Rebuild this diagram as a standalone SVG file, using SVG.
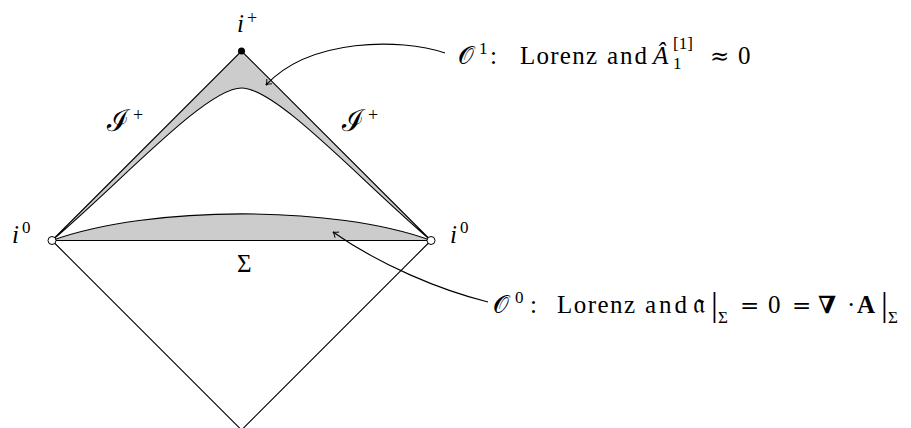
<svg xmlns="http://www.w3.org/2000/svg" width="911" height="428" viewBox="0 0 911 428">
<style>
.ln{fill:none;stroke:#000;stroke-width:1.1}
.reg{fill:#cccccc;stroke:#000;stroke-width:1.1}
</style>
<defs>
<marker id="ah" viewBox="-6 -5 8 10" markerWidth="8" markerHeight="10" refX="0" refY="0" orient="auto" markerUnits="userSpaceOnUse">
<path d="M-5,-3.5 Q-2,-0.5 0,0 Q-2,0.5 -5,3.5" fill="none" stroke="#000" stroke-width="1"/>
</marker>
</defs>
<rect width="911" height="428" fill="#fff"/>
<g id="diamond">
<path class="ln" d="M52,240.5 L241.5,430 L431,240.5"/>
</g>
<g id="region-O1">
<path class="reg" d="M52,240.5 L241.5,51 L431,240.5 C362,182 277,88 241.5,88 C206,88 121,182 52,240.5 Z"/>
</g>
<g id="region-O0">
<path class="reg" d="M52,240.5 C150,205 335,205 431,240.5 Z"/>
</g>
<g id="connectors">
<path class="ln" d="M445,53 C400,38 310,38 266,85" marker-end="url(#ah)"/>
<path class="ln" d="M488,302 C440,290 380,265 333,232" marker-end="url(#ah)"/>
</g>
<g font-family="Liberation Serif, DejaVu Serif, serif" font-size="25" fill="#000">
<g id="i-plus">
<circle cx="241.5" cy="51" r="3.5" fill="#000"/>
<text x="237" y="32" font-style="italic">i</text>
<text x="247" y="24" font-size="18">+</text>
</g>
<g id="i0-left">
<circle cx="52" cy="240.5" r="4" fill="#fff" stroke="#000" stroke-width="1"/>
<text x="12" y="243" font-style="italic">i</text>
<text x="22" y="233" font-size="17">0</text>
</g>
<g id="i0-right">
<circle cx="431" cy="240.5" r="4" fill="#fff" stroke="#000" stroke-width="1"/>
<text x="450" y="243" font-style="italic">i</text>
<text x="460" y="233" font-size="17">0</text>
</g>
<g id="scri-left">
<text x="107" y="131" font-size="30">ℐ</text>
<text x="133" y="121" font-size="18">+</text>
</g>
<g id="scri-right">
<text x="342" y="131" font-size="30">ℐ</text>
<text x="368" y="121" font-size="18">+</text>
</g>
<g id="sigma">
<text x="237" y="272">Σ</text>
</g>
<g id="label-O1">
<text x="458" y="64">𝒪</text>
<text x="479" y="54" font-size="17">1</text>
<text x="490" y="64">:</text>
<text x="520" y="64" textLength="77" lengthAdjust="spacing">Lorenz</text>
<text x="607" y="64" textLength="40" lengthAdjust="spacing">and</text>
<text x="653" y="64" font-style="italic">Â</text>
<text x="673" y="49" font-size="17">[1]</text>
<text x="673" y="69" font-size="17">1</text>
<text x="710" y="64" font-family="DejaVu Serif, serif" font-size="23">≈</text>
<text x="738" y="64">0</text>
</g>
<g id="label-O0">
<text x="493" y="313">𝒪</text>
<text x="515" y="303" font-size="17">0</text>
<text x="530" y="313">:</text>
<text x="557" y="313" textLength="78" lengthAdjust="spacing">Lorenz</text>
<text x="645" y="313" textLength="42" lengthAdjust="spacing">and</text>
<text x="693" y="313" font-size="28">𝔞</text>
<text x="711" y="316" font-size="34">|</text>
<text x="718" y="323" font-size="17">Σ</text>
<text x="740" y="313" font-family="DejaVu Serif, serif" font-size="23">=</text>
<text x="768" y="313">0</text>
<text x="792" y="313" font-family="DejaVu Serif, serif" font-size="23">=</text>
<text x="818" y="313" font-family="DejaVu Serif, serif" font-weight="bold" font-size="24">∇</text>
<text x="847" y="313">·</text>
<text x="857" y="313" font-weight="bold">A</text>
<text x="881" y="316" font-size="34">|</text>
<text x="888" y="323" font-size="17">Σ</text>
</g>
</g>
</svg>
